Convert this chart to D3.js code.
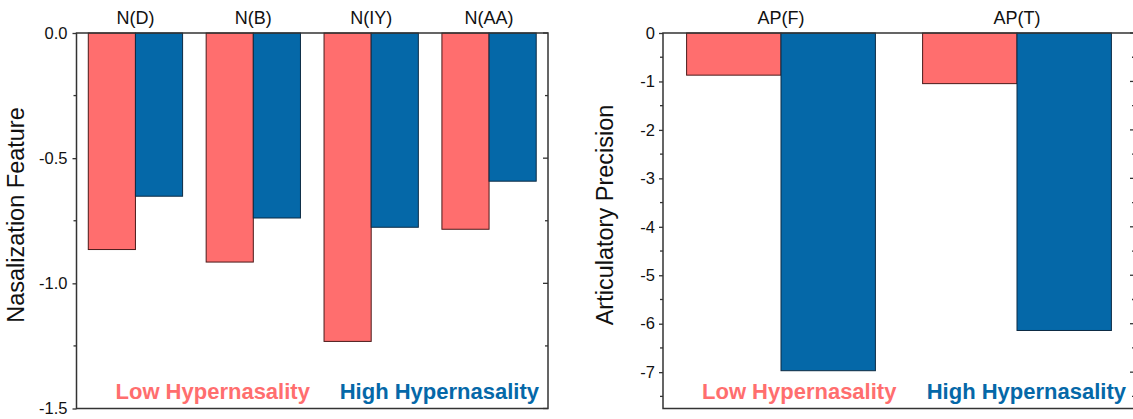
<!DOCTYPE html>
<html>
<head>
<meta charset="utf-8">
<script src="https://cdn.jsdelivr.net/npm/d3@7"></script>
<style>
  html, body { margin: 0; padding: 0; background: #fff; }
  svg { display: block; }
  text { font-family: "Liberation Sans", Arial, sans-serif; }
</style>
</head>
<body>
<svg id="chart" width="1133" height="419"></svg>
<script>
// ---- data ----
const nasalCategories = ["N(D)", "N(B)", "N(IY)", "N(AA)"];
const nasalLow  = [-0.865, -0.915, -1.232, -0.784];
const nasalHigh = [-0.652, -0.739, -0.776, -0.592];
const nasalTicks = [0, -0.5, -1.0, -1.5];
const nasalTickLabels = ["0.0", "-0.5", "-1.0", "-1.5"];

const apCategories = ["AP(F)", "AP(T)"];
const apLow  = [-0.87, -1.045];
const apHigh = [-6.97, -6.14];
const apTicks = [0, -1, -2, -3, -4, -5, -6, -7];
const apTickLabels = ["0", "-1", "-2", "-3", "-4", "-5", "-6", "-7"];

const seriesNames = ["Low Hypernasality", "High Hypernasality"];
const seriesColors = ["#FF6E6E", "#0568A8"];

const svg = d3.select("#chart");

function panel(opts) {
  const { x0, x1, y0, y1, cats, low, high, domain, ticks, tickLabels, minorStep, title, titleX, labelPad } = opts;
  const g = svg.append("g");
  const x = d3.scaleBand().domain(cats).range([x0, x1]).paddingInner(0.2).paddingOuter(0.1);
  const xs = d3.scaleBand().domain([0, 1]).range([0, x.bandwidth()]);
  const y = d3.scaleLinear().domain(domain).range([y1, y0]);

  // bars
  const data = [];
  cats.forEach((c, i) => {
    data.push({ c, s: 0, v: low[i] });
    data.push({ c, s: 1, v: high[i] });
  });
  g.selectAll("rect.bar").data(data).join("rect")
    .attr("class", "bar")
    .attr("x", d => x(d.c) + xs(d.s))
    .attr("width", xs.bandwidth())
    .attr("y", d => y(0))
    .attr("height", d => y(d.v) - y(0))
    .attr("fill", d => seriesColors[d.s])
    .attr("stroke", d => d.s === 0 ? "#4a1a1a" : "#0d2b44")
    .attr("stroke-width", 1);

  const minor = d3.range(domain[1], domain[0] - 1e-9, -minorStep).filter(v => !ticks.some(t => Math.abs(t - v) < 1e-9));

  // left axis
  const left = d3.axisLeft(y).tickValues(ticks).tickFormat((d, i) => tickLabels[i]).tickSizeOuter(0).tickSize(4).tickPadding(labelPad);
  const la = g.append("g").attr("transform", `translate(${x0},0)`).call(left)
    .attr("font-size", null).attr("font-family", null);
  la.select(".domain").remove();
  la.selectAll("line").attr("stroke", "#333").attr("stroke-width", 1.3);
  la.selectAll("text").style("font-size", "16.5px").attr("fill", "#111");
  g.selectAll("line.minL").data(minor).join("line").attr("class", "minL")
    .attr("x1", x0 - 3).attr("x2", x0).attr("y1", d => y(d)).attr("y2", d => y(d))
    .attr("stroke", "#333").attr("stroke-width", 1.3);

  // right axis ticks (inward)
  g.selectAll("line.majR").data(ticks).join("line").attr("class", "majR")
    .attr("x1", x1 - 5).attr("x2", x1).attr("y1", d => y(d)).attr("y2", d => y(d))
    .attr("stroke", "#333").attr("stroke-width", 1.3);
  g.selectAll("line.minR").data(minor).join("line").attr("class", "minR")
    .attr("x1", x1 - 3).attr("x2", x1).attr("y1", d => y(d)).attr("y2", d => y(d))
    .attr("stroke", "#333").attr("stroke-width", 1.3);

  // frame
  g.append("rect").attr("x", x0).attr("y", y0).attr("width", x1 - x0).attr("height", y1 - y0)
    .attr("fill", "none").attr("stroke", "#333").attr("stroke-width", 1.5);

  // category labels on top
  g.selectAll("text.cat").data(cats).join("text").attr("class", "cat")
    .attr("x", d => x(d) + x.bandwidth() / 2).attr("y", y0 - 9)
    .attr("text-anchor", "middle").style("font-size", "18px").attr("fill", "#111")
    .text(d => d);

  // y title
  g.append("text")
    .attr("transform", `translate(${titleX},215) rotate(-90)`)
    .attr("text-anchor", "middle").attr("dominant-baseline", "middle")
    .style("font-size", "23.5px").attr("fill", "#111").text(title);

  // legend texts
  g.append("text").attr("x", x0 + 39).attr("y", y1 - 10)
    .style("font-size", "22px").attr("font-weight", "bold").attr("fill", seriesColors[0])
    .text(seriesNames[0]);
  g.append("text").attr("x", x1 - 9).attr("y", y1 - 10).attr("text-anchor", "end")
    .style("font-size", "22px").attr("font-weight", "bold").attr("fill", seriesColors[1])
    .text(seriesNames[1]);
}

panel({ x0: 76.5, x1: 548, y0: 33, y1: 408.5, cats: nasalCategories, low: nasalLow, high: nasalHigh,
  domain: [-1.5, 0], ticks: nasalTicks, tickLabels: nasalTickLabels, minorStep: 0.25,
  title: "Nasalization Feature", titleX: 18, labelPad: 5 });

panel({ x0: 663, x1: 1135, y0: 33, y1: 408.5, cats: apCategories, low: apLow, high: apHigh,
  domain: [-7.75, 0], ticks: apTicks, tickLabels: apTickLabels, minorStep: 0.5,
  title: "Articulatory Precision", titleX: 607, labelPad: 4 });
</script>
</body>
</html>
